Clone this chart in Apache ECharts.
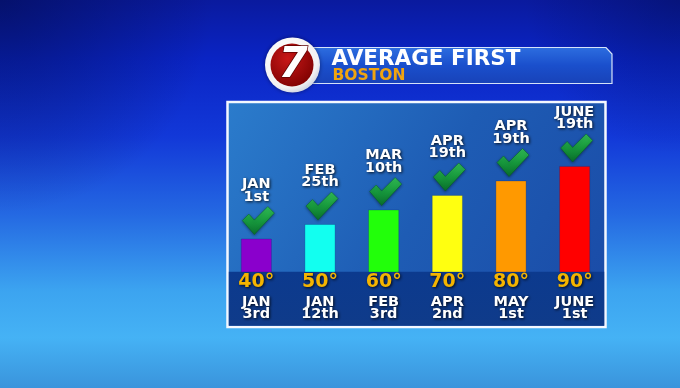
<!DOCTYPE html>
<html>
<head>
<meta charset="utf-8">
<script src="https://cdn.jsdelivr.net/npm/echarts@6/dist/echarts.min.js"></script>
<style>
html,body{margin:0;padding:0;background:#1a40d6;}
#chart{width:680px;height:388px;}
</style>
</head>
<body>
<div id="chart"></div>
<script>
// ---- data ----
const tempLabels = ['40°', '50°', '60°', '70°', '80°', '90°'];
const tempValues = [40, 50, 60, 70, 80, 90];
const topDates = ['JAN\n1st', 'FEB\n25th', 'MAR\n10th', 'APR\n19th', 'APR\n19th', 'JUNE\n19th'];
const bottomDates = ['JAN\n3rd', 'JAN\n12th', 'FEB\n3rd', 'APR\n2nd', 'MAY\n1st', 'JUNE\n1st'];
const barColors = ['#8a00cc', '#12fff0', '#22ff0a', '#ffff10', '#ff9900', '#ff0000'];
const titleText = 'AVERAGE FIRST';
const subtitleText = 'BOSTON';

const FONT = '"DejaVu Sans", "Liberation Sans", sans-serif';
const chart = echarts.init(document.getElementById('chart'), null, {renderer: 'canvas'});

const textShadow = {textShadowColor: 'rgba(0,0,0,0.85)', textShadowBlur: 3, textShadowOffsetX: 1, textShadowOffsetY: 1};

const option = {
  animation: false,
  backgroundColor: 'transparent',
  grid: {left: 224.5, width: 382, top: 126.8, bottom: 116},
  xAxis: {
    type: 'category',
    data: tempLabels,
    axisLine: {show: false},
    axisTick: {show: false},
    splitLine: {show: false},
    axisLabel: {
      interval: 0,
      margin: -2.5,
      formatter: function (v, i) {
        const d = bottomDates[i].split('\n');
        return '{t|' + v + '}\n{d|' + d[0] + '}\n{d|' + d[1] + '}';
      },
      rich: {
        t: Object.assign({fontFamily: FONT, fontWeight: 'bold', fontSize: 19, color: '#f4b400', lineHeight: 26}, textShadow),
        d: Object.assign({fontFamily: FONT, fontWeight: 'bold', fontSize: 14.5, color: '#ffffff', lineHeight: 12.5}, textShadow)
      }
    }
  },
  yAxis: {type: 'value', min: 17, max: 117, show: false, splitLine: {show: false}},
  graphic: [
    // background
    {type: 'rect', z: -10, silent: true, shape: {x: 0, y: 0, width: 680, height: 388},
     style: {fill: {type: 'linear', x: 0, y: 0, x2: 0, y2: 1, colorStops: [
       {offset: 0, color: '#0a1a9e'}, {offset: 0.15, color: '#0a24c4'}, {offset: 0.35, color: '#1238d8'},
       {offset: 0.55, color: '#2468e2'}, {offset: 0.75, color: '#3ca4f0'}, {offset: 0.87, color: '#45b2f5'},
       {offset: 1, color: '#3a94dc'}]}}},
    {type: 'rect', z: -10, silent: true, shape: {x: 0, y: 0, width: 680, height: 388},
     style: {fill: {type: 'radial', x: 0, y: 0, r: 0.55, colorStops: [
       {offset: 0, color: 'rgba(0,8,60,0.5)'}, {offset: 1, color: 'rgba(0,8,60,0)'}]}}},
    {type: 'rect', z: -10, silent: true, shape: {x: 0, y: 0, width: 680, height: 388},
     style: {fill: {type: 'radial', x: 1, y: 0, r: 0.4, colorStops: [
       {offset: 0, color: 'rgba(0,8,60,0.35)'}, {offset: 1, color: 'rgba(0,8,60,0)'}]}}},
    // panel
    {type: 'rect', z: -9, silent: true, shape: {x: 227.5, y: 102, width: 378, height: 225},
     style: {fill: {type: 'linear', x: 0, y: 0, x2: 1, y2: 1, colorStops: [
       {offset: 0, color: '#2b7ccc'}, {offset: 0.5, color: '#1e5cb4'}, {offset: 1, color: '#1a4aa6'}]},
       stroke: '#f4f8ff', lineWidth: 2.5}},
    // bottom band
    {type: 'rect', z: -8, silent: true, shape: {x: 228.8, y: 271.8, width: 375.4, height: 54},
     style: {fill: {type: 'linear', x: 0, y: 0, x2: 0, y2: 1, colorStops: [
       {offset: 0, color: '#0c3a8e'}, {offset: 1, color: '#0f3b8a'}]}}},
    // header bar
    {type: 'polygon', z: -7, silent: true,
     shape: {points: [[300, 47.5], [606, 47.5], [612, 54], [612, 83.5], [300, 83.5]]},
     style: {fill: {type: 'linear', x: 0, y: 0, x2: 0, y2: 1, colorStops: [
       {offset: 0, color: '#2d6ee0'}, {offset: 0.5, color: '#1a4fcc'}, {offset: 1, color: '#1842b8'}]},
       stroke: 'rgba(235,245,255,0.9)', lineWidth: 1.2}},
    // logo
    {type: 'circle', z: -6, silent: true, shape: {cx: 292.5, cy: 65, r: 27.5},
     style: {fill: {type: 'radial', x: 0.4, y: 0.35, r: 0.7, colorStops: [
       {offset: 0, color: '#ffffff'}, {offset: 0.8, color: '#f2f2f2'}, {offset: 1, color: '#c8cfe0'}]},
       shadowColor: 'rgba(0,0,40,0.5)', shadowBlur: 4}},
    {type: 'circle', z: -5, silent: true, shape: {cx: 292, cy: 65, r: 21.5},
     style: {fill: {type: 'radial', x: 0.4, y: 0.35, r: 0.75, colorStops: [
       {offset: 0, color: '#c81818'}, {offset: 1, color: '#7a0000'}]}}},
    {type: 'text', z: -4, silent: true, x: 293, y: 66,
     style: {text: '7', fontFamily: FONT, fontWeight: 'bold', fontStyle: 'italic', fontSize: 42,
       fill: '#ffffff', stroke: '#5a0000', lineWidth: 1.5, align: 'center', verticalAlign: 'middle'}},
    // titles
    {type: 'text', z: -4, silent: true, x: 331.5, y: 59.5,
     style: {text: titleText, fontFamily: FONT, fontWeight: 'bold', fontSize: 21.5, fill: '#ffffff',
       align: 'left', verticalAlign: 'middle', shadowColor: 'rgba(0,0,0,0.6)', shadowBlur: 2, shadowOffsetY: 1}},
    {type: 'text', z: -4, silent: true, x: 332.5, y: 75.5,
     style: {text: subtitleText, fontFamily: FONT, fontWeight: 'bold', fontSize: 15.5, fill: '#f0a410',
       align: 'left', verticalAlign: 'middle'}}
  ],
  series: [
    {
      type: 'bar',
      barWidth: 31,
      z: 3,
      data: tempValues.map(function (v, i) {
        return {value: v, itemStyle: {color: barColors[i], borderColor: 'rgba(0,40,120,0.35)', borderWidth: 0.8}};
      }),
      label: {
        show: true,
        position: 'top',
        distance: 35.5,
        formatter: function (p) { return topDates[p.dataIndex]; },
        fontFamily: FONT, fontWeight: 'bold', fontSize: 14.5, lineHeight: 12.5, color: '#ffffff',
        align: 'center',
        textShadowColor: 'rgba(0,0,0,0.85)', textShadowBlur: 3, textShadowOffsetX: 1, textShadowOffsetY: 1
      }
    },
    {
      type: 'scatter',
      z: 4,
      data: tempValues,
      symbol: 'path://M0,14 L6.5,7.5 L12,13.5 L25.5,0 L32,6.5 L12,28 Z',
      symbolSize: [32, 28],
      symbolKeepAspect: false,
      symbolOffset: [2, -18],
      itemStyle: {
        color: {type: 'linear', x: 0, y: 0, x2: 0, y2: 1, colorStops: [
          {offset: 0, color: '#38dc4c'}, {offset: 0.5, color: '#18b030'}, {offset: 1, color: '#067a1a'}]},
        borderColor: '#05601a', borderWidth: 0.6,
        shadowColor: 'rgba(0,0,0,0.5)', shadowBlur: 3, shadowOffsetY: 1
      },
      label: {show: false}
    }
  ]
};
chart.setOption(option);
</script>
</body>
</html>
